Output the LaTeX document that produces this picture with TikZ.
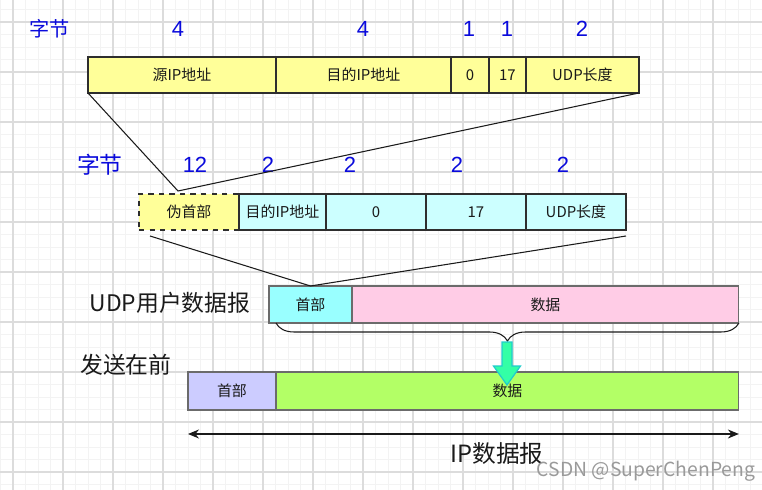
\documentclass[tikz,border=0pt]{standalone}
\usepackage{fontspec}
\setmainfont{Noto Sans CJK SC}
\newfontfamily\digitfont{Liberation Sans}
\usetikzlibrary{arrows.meta,backgrounds,positioning,decorations.pathreplacing}
\definecolor{ink}{HTML}{1A1A1A}
\definecolor{frame}{HTML}{2E2E2E}
\definecolor{softframe}{HTML}{6B6B6B}
\definecolor{bytecount}{HTML}{0A0ADC}
\definecolor{pseudofill}{HTML}{FFFF99}
\definecolor{fieldfill}{HTML}{CCFFFF}
\definecolor{udpheadfill}{HTML}{99FFFF}
\definecolor{udpdatafill}{HTML}{FFCCE6}
\definecolor{ipheadfill}{HTML}{CCCCFF}
\definecolor{ipdatafill}{HTML}{B3FF66}
\definecolor{pushfill}{HTML}{33FFA6}
\definecolor{pushline}{HTML}{22CCCC}
\definecolor{gridminor}{HTML}{F3F3F3}
\definecolor{gridmajor}{HTML}{DCDCDC}
\definecolor{markgray}{HTML}{9A9A9A}

\begin{document}
\begin{tikzpicture}[
  x=0.02cm, y=-0.02cm,
  font=\fontsize{8.5}{10}\selectfont,
  text=ink,
  field/.style={
    draw=frame,
    line width=0.7pt,
    inner sep=0pt,
    outer sep=0pt,
    minimum height=0.72cm,
    anchor=west
  },
  block/.style={
    draw=softframe,
    line width=0.6pt,
    inner sep=0pt,
    outer sep=0pt,
    anchor=west
  },
  bytes/.style={text=bytecount, font=\digitfont\fontsize{12.5}{14}\selectfont},
  unit/.style={text=bytecount},
  title/.style={font=\fontsize{13}{15}\selectfont},
  zoomline/.style={draw=ink, line width=0.6pt},
  bracket/.style={draw=ink, line width=0.6pt, decorate,
    decoration={brace, amplitude=0.36cm}},
  push/.style={fill=pushfill, draw=pushline, line width=0.7pt, line join=miter},
  span/.style={{Stealth[length=2.2mm,width=1.8mm]}-{Stealth[length=2.2mm,width=1.8mm]}, draw=ink, line width=0.7pt}
]
\useasboundingbox (0,0) rectangle (762,490);

% Grid paper
\begin{scope}[on background layer]
  \fill[white] (0,0) rectangle (762,490);
  \foreach \gx in {0.5,13,...,762} \draw[gridminor, line width=0.5pt] (\gx,0) -- (\gx,490);
  \foreach \gy in {9.5,22,...,490} \draw[gridminor, line width=0.5pt] (0,\gy) -- (762,\gy);
  \foreach \gx in {13,63,...,762} \draw[gridmajor, line width=0.6pt] (\gx,0) -- (\gx,490);
  \foreach \gy in {22,72,...,490} \draw[gridmajor, line width=0.6pt] (0,\gy) -- (762,\gy);
\end{scope}

% Pseudo header, 12 bytes
\node[field, fill=pseudofill, minimum width=3.76cm] (srcaddr) at (88,75) {源IP地址};
\node[field, fill=pseudofill, minimum width=3.50cm, right=0pt of srcaddr] (dstaddr) {目的IP地址};
\node[field, fill=pseudofill, minimum width=0.76cm, right=0pt of dstaddr] (zero) {0};
\node[field, fill=pseudofill, minimum width=0.74cm, right=0pt of zero] (proto) {17};
\node[field, fill=pseudofill, minimum width=2.26cm, right=0pt of proto] (udplen) {UDP长度};

\node[unit, font=\fontsize{11.5}{13}\selectfont] (bytesA) at (50,29) {字节};
\node[bytes] (cntsrc) at (178,29) {4};
\node[bytes] (cntdst) at (363,29) {4};
\node[bytes] (cntzero) at (469,29) {1};
\node[bytes] (cntproto) at (507,29) {1};
\node[bytes] (cntlen) at (582,29) {2};

% UDP header, 8 bytes
\node[field, fill=pseudofill, dashed, minimum width=2.00cm] (pseudo) at (139,212) {伪首部};
\node[field, fill=fieldfill, minimum width=1.74cm, right=0pt of pseudo] (srcport) {目的IP地址};
\node[field, fill=fieldfill, minimum width=2.00cm, right=0pt of srcport] (dstport) {0};
\node[field, fill=fieldfill, minimum width=2.00cm, right=0pt of dstport] (udplong) {17};
\node[field, fill=fieldfill, minimum width=2.00cm, right=0pt of udplong] (checksum) {UDP长度};

\node[unit, font=\fontsize{13}{15}\selectfont] (bytesB) at (100,165) {字节};
\node[bytes] (cntpseudo) at (195,165) {12};
\node[bytes] (cntsport) at (268,165) {2};
\node[bytes] (cntdport) at (350,165) {2};
\node[bytes] (cntulen) at (457,165) {2};
\node[bytes] (cntsum) at (563,165) {2};

\coordinate (apex) at (178,191);
\draw[zoomline] (srcaddr.south west) -- (apex) -- (udplen.south east);

% UDP user datagram
\node[block, fill=udpheadfill, minimum width=1.66cm, minimum height=0.74cm] (udphead) at (269,304.5) {首部};
\node[block, fill=udpdatafill, minimum width=7.74cm, minimum height=0.74cm, right=0pt of udphead] (udpdata) {数据};
\node[title] (udplabel) at (170,303) {UDP用户数据报};

\coordinate (fanleft) at (150,236);
\coordinate (fanright) at (626,236);
\draw[zoomline] (fanleft) -- (udphead.north) -- (fanright);

\draw[bracket] (udpdata.south east) -- ([xshift=0.14cm]udphead.south west);

% IP datagram
\node[block, fill=ipheadfill, minimum width=1.76cm, minimum height=0.76cm] (iphead) at (188,391) {首部};
\node[block, fill=ipdatafill, minimum width=9.26cm, minimum height=0.76cm, right=0pt of iphead] (ipdata) {数据};
\node[title] (firstlabel) at (126,365) {发送在前};

\coordinate (pushtail) at (507,342);
\draw[push] (pushtail) ++(-5,0) -- ++(10,0) -- ++(0,24) -- ++(8.5,0)
  -- (507,385) -- (493.5,366) -- ++(8.5,0) -- cycle;

\draw[span] ([yshift=-0.48cm]iphead.south west) -- ([yshift=-0.48cm]ipdata.south east);
\node[title, font=\fontsize{13.5}{15}\selectfont] (iplabel) at (497,454) {IP数据报};

\node[text=markgray, font=\fontsize{11}{13}\selectfont] (mark) at (646,471) {CSDN @SuperChenPeng};

\end{tikzpicture}
\end{document}
